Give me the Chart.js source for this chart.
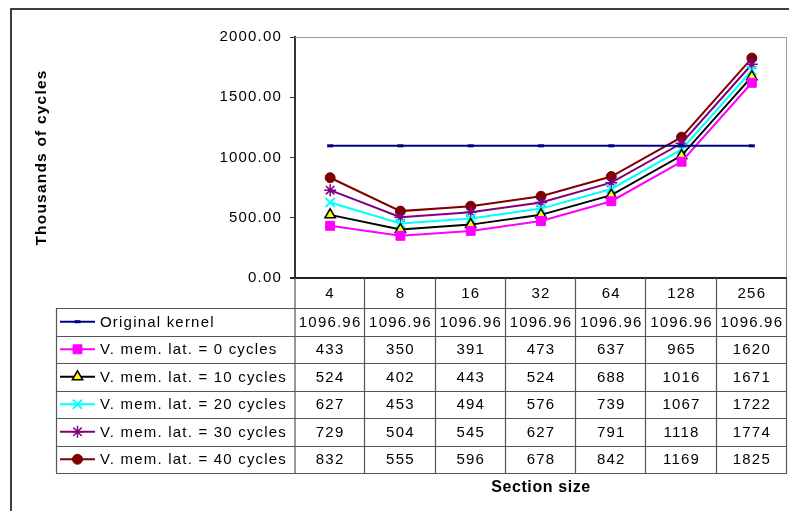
<!DOCTYPE html>
<html>
<head>
<meta charset="utf-8">
<script src="https://cdn.jsdelivr.net/npm/chart.js@4.4.1/dist/chart.umd.min.js"></script>
<style>
  html, body { margin: 0; padding: 0; background: #fff; }
  #wrap { width: 789px; height: 511px; position: relative; }
</style>
</head>
<body>
<div id="wrap"><canvas id="chart" width="789" height="511"></canvas></div>
<script>
const SECTION_SIZES = ["4", "8", "16", "32", "64", "128", "256"];
const ORIGINAL_KERNEL = [1096.96, 1096.96, 1096.96, 1096.96, 1096.96, 1096.96, 1096.96];
const LAT_0 = [433, 350, 391, 473, 637, 965, 1620];
const LAT_10 = [524, 402, 443, 524, 688, 1016, 1671];
const LAT_20 = [627, 453, 494, 576, 739, 1067, 1722];
const LAT_30 = [729, 504, 545, 627, 791, 1118, 1774];
const LAT_40 = [832, 555, 596, 678, 842, 1169, 1825];
const SERIES_LABELS = [
  "Original kernel",
  "V. mem. lat. = 0 cycles",
  "V. mem. lat. = 10 cycles",
  "V. mem. lat. = 20 cycles",
  "V. mem. lat. = 30 cycles",
  "V. mem. lat. = 40 cycles",
];
const Y_MIN = 0;
const Y_MAX = 2000;
const Y_STEP = 500;

const FONT = "'Liberation Sans', Arial, sans-serif";
const TEXT_SPACING = "1.2px";

function series(label, data, color, style, extra) {
  return Object.assign({
    label,
    data,
    borderColor: color,
    backgroundColor: color,
    borderWidth: 2,
    pointStyle: style,
    pointRadius: 5,
    pointBorderColor: color,
    pointBackgroundColor: color,
    pointBorderWidth: 1,
    tension: 0,
    fill: false,
  }, extra || {});
}

const datasets = [
  series(SERIES_LABELS[0], ORIGINAL_KERNEL, "#000080", "line", { pointRadius: 3, pointBorderWidth: 3 }),
  series(SERIES_LABELS[1], LAT_0, "#ff00ff", "rect", { pointRadius: 6.3 }),
  series(SERIES_LABELS[2], LAT_10, "#000000", "triangle", {
    pointRadius: 6, pointBackgroundColor: "#ffff00", pointBorderColor: "#000000", pointBorderWidth: 1.5,
  }),
  series(SERIES_LABELS[3], LAT_20, "#00ffff", "crossRot", { pointRadius: 6.5, pointBorderWidth: 2 }),
  series(SERIES_LABELS[4], LAT_30, "#800080", "star", { pointRadius: 6, pointBorderWidth: 1.5 }),
  series(SERIES_LABELS[5], LAT_40, "#800000", "circle", { pointRadius: 5 }),
];

function fmtValue(datasetIndex, v) {
  return datasetIndex === 0 ? v.toFixed(2) : String(v);
}

// data table, axis frame and titles drawn around the plot area
const tablePlugin = {
  id: "dataTable",
  beforeDraw(chart) {
    chart.ctx.letterSpacing = TEXT_SPACING;
  },
  beforeDatasetsDraw(chart) {
    const { ctx, chartArea: a } = chart;
    ctx.save();
    ctx.strokeStyle = "#9a9a9a";
    ctx.lineWidth = 1;
    ctx.beginPath();
    ctx.moveTo(a.left, a.top + 0.5);
    ctx.lineTo(a.right - 0.5, a.top + 0.5);
    ctx.lineTo(a.right - 0.5, a.bottom);
    ctx.stroke();
    ctx.restore();
  },
  afterDraw(chart) {
    const { ctx, chartArea: a } = chart;
    const xs = chart.scales.x;
    const n = SECTION_SIZES.length;
    const colW = (a.right - a.left) / n;
    const tableLeft = 56;
    const headerBottom = 308;
    const rowH = 27.5;
    const tableBottom = headerBottom + rowH * datasets.length;

    ctx.save();
    ctx.letterSpacing = TEXT_SPACING;

    // outer chart border
    ctx.strokeStyle = "#000";
    ctx.lineWidth = 1.5;
    ctx.beginPath();
    ctx.moveTo(11, 511);
    ctx.lineTo(11, 9);
    ctx.lineTo(789, 9);
    ctx.stroke();

    // x axis line
    ctx.strokeStyle = "#222";
    ctx.lineWidth = 2;
    ctx.beginPath();
    ctx.moveTo(a.left - 5, a.bottom);
    ctx.lineTo(a.right, a.bottom);
    ctx.stroke();

    // table grid
    ctx.strokeStyle = "#555";
    ctx.lineWidth = 1.2;
    ctx.beginPath();
    for (let r = 0; r <= datasets.length; r++) {
      const y = Math.round(headerBottom + r * rowH) + 0.5;
      ctx.moveTo(tableLeft, y);
      ctx.lineTo(a.right, y);
    }
    for (let k = 1; k <= n; k++) {
      const x = Math.round(a.left + k * colW) - 0.5;
      ctx.moveTo(x, a.bottom);
      ctx.lineTo(x, tableBottom + 0.5);
    }
    ctx.moveTo(tableLeft + 0.5, headerBottom);
    ctx.lineTo(tableLeft + 0.5, tableBottom + 0.5);
    ctx.moveTo(a.left, a.bottom);
    ctx.lineTo(a.left, tableBottom + 0.5);
    ctx.stroke();

    ctx.fillStyle = "#000";
    ctx.font = "15px " + FONT;
    ctx.textAlign = "center";
    ctx.textBaseline = "middle";
    const headY = (a.bottom + headerBottom) / 2 + 1;
    SECTION_SIZES.forEach((lab, i) => {
      ctx.fillText(lab, xs.getPixelForValue(i), headY);
    });

    datasets.forEach((ds, j) => {
      const cy = headerBottom + rowH * (j + 0.5) + 1;
      ctx.textAlign = "center";
      ctx.fillStyle = "#000";
      ds.data.forEach((v, i) => {
        ctx.fillText(fmtValue(j, v), xs.getPixelForValue(i), cy);
      });
      // legend key
      ctx.strokeStyle = ds.borderColor;
      ctx.lineWidth = 2;
      ctx.beginPath();
      ctx.moveTo(60, cy - 1);
      ctx.lineTo(95, cy - 1);
      ctx.stroke();
      ctx.fillStyle = ds.pointBackgroundColor;
      ctx.strokeStyle = ds.pointBorderColor;
      ctx.lineWidth = ds.pointBorderWidth;
      Chart.helpers.drawPoint(ctx, {
        pointStyle: ds.pointStyle,
        radius: ds.pointRadius,
        rotation: 0,
        borderWidth: ds.pointBorderWidth,
      }, 77.5, cy - 1);
      ctx.fillStyle = "#000";
      ctx.textAlign = "left";
      ctx.fillText(ds.label, 100, cy);
    });

    // x axis title
    ctx.letterSpacing = "0.6px";
    ctx.font = "bold 16px " + FONT;
    ctx.textAlign = "center";
    ctx.fillText("Section size", (a.left + a.right) / 2, 488);
    ctx.restore();
  },
};

new Chart(document.getElementById("chart"), {
  type: "line",
  data: { labels: SECTION_SIZES, datasets },
  options: {
    responsive: false,
    animation: false,
    events: [],
    layout: { autoPadding: false, padding: { top: 37, right: 2, bottom: 233, left: 0 } },
    plugins: { legend: { display: false }, tooltip: { enabled: false } },
    scales: {
      x: { display: false, offset: true },
      y: {
        min: Y_MIN,
        max: Y_MAX,
        afterFit(scale) { scale.width = 295; },
        border: { display: true, color: "#333", width: 2 },
        grid: { drawOnChartArea: false, drawTicks: true, tickLength: 5, color: "#333", lineWidth: 1 },
        ticks: {
          stepSize: Y_STEP,
          color: "#000",
          padding: 8,
          font: { family: FONT, size: 15 },
          callback(value) { return Number(value).toFixed(2); },
        },
        title: {
          display: true,
          text: "Thousands of cycles",
          color: "#000",
          padding: { top: 32, bottom: 0 },
          font: { family: FONT, size: 15.5, weight: "bold" },
        },
      },
    },
  },
  plugins: [tablePlugin],
});
</script>
</body>
</html>
